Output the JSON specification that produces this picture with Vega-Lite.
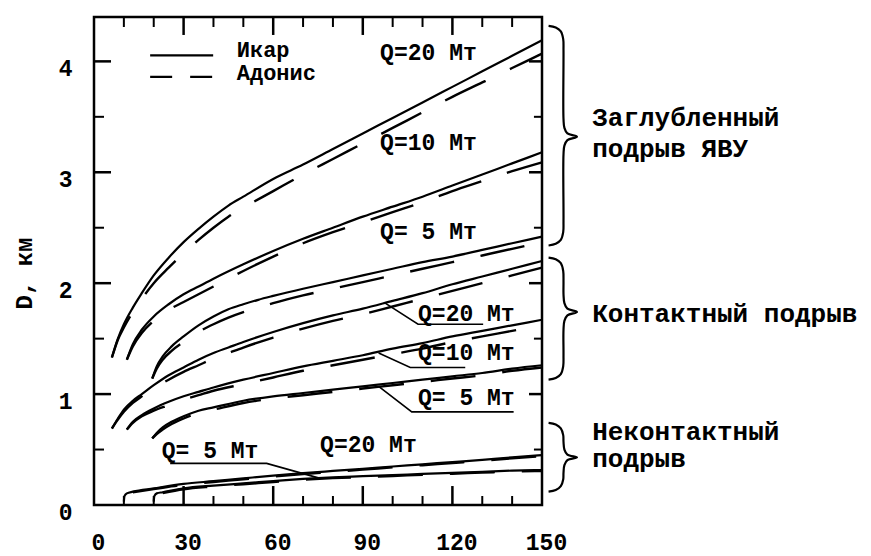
{
  "$schema": "https://vega.github.io/schema/vega-lite/v6.json",
  "width": 448,
  "height": 488,
  "autosize": "none",
  "padding": {"left": 94, "top": 17, "right": 329, "bottom": 51},
  "background": "white",
  "config": {
    "view": {"stroke": "black", "strokeWidth": 2.5},
    "axis": {
      "grid": false,
      "labelFont": "Liberation Mono",
      "labelFontWeight": "bold",
      "labelFontSize": 23,
      "labelColor": "black",
      "domain": false,
      "labelOverlap": false,
      "labelFlush": false,
      "titleColor": "black"
    }
  },
  "datasets": {
    "ticks": [
      {"id":"b30","k":"major","o":1,"x":30,"D":0},{"id":"b30","k":"major","o":2,"x":30,"D":0.171},
      {"id":"b60","k":"major","o":1,"x":60,"D":0},{"id":"b60","k":"major","o":2,"x":60,"D":0.171},
      {"id":"b90","k":"major","o":1,"x":90,"D":0},{"id":"b90","k":"major","o":2,"x":90,"D":0.171},
      {"id":"b120","k":"major","o":1,"x":120,"D":0},{"id":"b120","k":"major","o":2,"x":120,"D":0.171},
      {"id":"t30","k":"major","o":1,"x":30,"D":4.4},{"id":"t30","k":"major","o":2,"x":30,"D":4.238},
      {"id":"t60","k":"major","o":1,"x":60,"D":4.4},{"id":"t60","k":"major","o":2,"x":60,"D":4.238},
      {"id":"t90","k":"major","o":1,"x":90,"D":4.4},{"id":"t90","k":"major","o":2,"x":90,"D":4.238},
      {"id":"t120","k":"major","o":1,"x":120,"D":4.4},{"id":"t120","k":"major","o":2,"x":120,"D":4.238},
      {"id":"l1","k":"major","o":1,"x":0,"D":1},{"id":"l1","k":"major","o":2,"x":5.7,"D":1},
      {"id":"l2","k":"major","o":1,"x":0,"D":2},{"id":"l2","k":"major","o":2,"x":5.7,"D":2},
      {"id":"l3","k":"major","o":1,"x":0,"D":3},{"id":"l3","k":"major","o":2,"x":5.7,"D":3},
      {"id":"l4","k":"major","o":1,"x":0,"D":4},{"id":"l4","k":"major","o":2,"x":5.7,"D":4},
      {"id":"r1","k":"major","o":1,"x":150,"D":1},{"id":"r1","k":"major","o":2,"x":145.65,"D":1},
      {"id":"r2","k":"major","o":1,"x":150,"D":2},{"id":"r2","k":"major","o":2,"x":145.65,"D":2},
      {"id":"r3","k":"major","o":1,"x":150,"D":3},{"id":"r3","k":"major","o":2,"x":145.65,"D":3},
      {"id":"r4","k":"major","o":1,"x":150,"D":4},{"id":"r4","k":"major","o":2,"x":145.65,"D":4},
      {"id":"b10","k":"minor","o":1,"x":10,"D":0},{"id":"b10","k":"minor","o":2,"x":10,"D":0.081},
      {"id":"b20","k":"minor","o":1,"x":20,"D":0},{"id":"b20","k":"minor","o":2,"x":20,"D":0.081},
      {"id":"b40","k":"minor","o":1,"x":40,"D":0},{"id":"b40","k":"minor","o":2,"x":40,"D":0.081},
      {"id":"b50","k":"minor","o":1,"x":50,"D":0},{"id":"b50","k":"minor","o":2,"x":50,"D":0.081},
      {"id":"b70","k":"minor","o":1,"x":70,"D":0},{"id":"b70","k":"minor","o":2,"x":70,"D":0.081},
      {"id":"b80","k":"minor","o":1,"x":80,"D":0},{"id":"b80","k":"minor","o":2,"x":80,"D":0.081},
      {"id":"b100","k":"minor","o":1,"x":100,"D":0},{"id":"b100","k":"minor","o":2,"x":100,"D":0.081},
      {"id":"b110","k":"minor","o":1,"x":110,"D":0},{"id":"b110","k":"minor","o":2,"x":110,"D":0.081},
      {"id":"b130","k":"minor","o":1,"x":130,"D":0},{"id":"b130","k":"minor","o":2,"x":130,"D":0.081},
      {"id":"b140","k":"minor","o":1,"x":140,"D":0},{"id":"b140","k":"minor","o":2,"x":140,"D":0.081},
      {"id":"t10","k":"minor","o":1,"x":10,"D":4.4},{"id":"t10","k":"minor","o":2,"x":10,"D":4.31},
      {"id":"t20","k":"minor","o":1,"x":20,"D":4.4},{"id":"t20","k":"minor","o":2,"x":20,"D":4.31},
      {"id":"t40","k":"minor","o":1,"x":40,"D":4.4},{"id":"t40","k":"minor","o":2,"x":40,"D":4.31},
      {"id":"t50","k":"minor","o":1,"x":50,"D":4.4},{"id":"t50","k":"minor","o":2,"x":50,"D":4.31},
      {"id":"t70","k":"minor","o":1,"x":70,"D":4.4},{"id":"t70","k":"minor","o":2,"x":70,"D":4.31},
      {"id":"t80","k":"minor","o":1,"x":80,"D":4.4},{"id":"t80","k":"minor","o":2,"x":80,"D":4.31},
      {"id":"t100","k":"minor","o":1,"x":100,"D":4.4},{"id":"t100","k":"minor","o":2,"x":100,"D":4.31},
      {"id":"t110","k":"minor","o":1,"x":110,"D":4.4},{"id":"t110","k":"minor","o":2,"x":110,"D":4.31},
      {"id":"t130","k":"minor","o":1,"x":130,"D":4.4},{"id":"t130","k":"minor","o":2,"x":130,"D":4.31},
      {"id":"t140","k":"minor","o":1,"x":140,"D":4.4},{"id":"t140","k":"minor","o":2,"x":140,"D":4.31},
      {"id":"l05","k":"minor","o":1,"x":0,"D":0.5},{"id":"l05","k":"minor","o":2,"x":3.35,"D":0.5},
      {"id":"l15","k":"minor","o":1,"x":0,"D":1.5},{"id":"l15","k":"minor","o":2,"x":3.35,"D":1.5},
      {"id":"l25","k":"minor","o":1,"x":0,"D":2.5},{"id":"l25","k":"minor","o":2,"x":3.35,"D":2.5},
      {"id":"l35","k":"minor","o":1,"x":0,"D":3.5},{"id":"l35","k":"minor","o":2,"x":3.35,"D":3.5},
      {"id":"r05","k":"minor","o":1,"x":150,"D":0.5},{"id":"r05","k":"minor","o":2,"x":147.3,"D":0.5},
      {"id":"r15","k":"minor","o":1,"x":150,"D":1.5},{"id":"r15","k":"minor","o":2,"x":147.3,"D":1.5},
      {"id":"r25","k":"minor","o":1,"x":150,"D":2.5},{"id":"r25","k":"minor","o":2,"x":147.3,"D":2.5},
      {"id":"r35","k":"minor","o":1,"x":150,"D":3.5},{"id":"r35","k":"minor","o":2,"x":147.3,"D":3.5}
    ],
    "curves": [
      {"g":"deep","Q":20,"m":"Икар","x":6,"D":1.33},{"g":"deep","Q":20,"m":"Икар","x":8,"D":1.50},{"g":"deep","Q":20,"m":"Икар","x":10,"D":1.63},{"g":"deep","Q":20,"m":"Икар","x":13,"D":1.78},{"g":"deep","Q":20,"m":"Икар","x":16,"D":1.91},{"g":"deep","Q":20,"m":"Икар","x":20,"D":2.07},{"g":"deep","Q":20,"m":"Икар","x":25,"D":2.23},{"g":"deep","Q":20,"m":"Икар","x":30,"D":2.37},{"g":"deep","Q":20,"m":"Икар","x":35,"D":2.49},{"g":"deep","Q":20,"m":"Икар","x":40,"D":2.60},{"g":"deep","Q":20,"m":"Икар","x":45,"D":2.70},{"g":"deep","Q":20,"m":"Икар","x":50,"D":2.78},{"g":"deep","Q":20,"m":"Икар","x":60,"D":2.94},{"g":"deep","Q":20,"m":"Икар","x":70,"D":3.07},{"g":"deep","Q":20,"m":"Икар","x":80,"D":3.21},{"g":"deep","Q":20,"m":"Икар","x":90,"D":3.35},{"g":"deep","Q":20,"m":"Икар","x":100,"D":3.49},{"g":"deep","Q":20,"m":"Икар","x":110,"D":3.63},{"g":"deep","Q":20,"m":"Икар","x":120,"D":3.77},{"g":"deep","Q":20,"m":"Икар","x":130,"D":3.91},{"g":"deep","Q":20,"m":"Икар","x":140,"D":4.05},{"g":"deep","Q":20,"m":"Икар","x":150,"D":4.19},
      {"g":"deep","Q":20,"m":"Адонис","x":6,"D":1.33},{"g":"deep","Q":20,"m":"Адонис","x":8,"D":1.49},{"g":"deep","Q":20,"m":"Адонис","x":10,"D":1.60},{"g":"deep","Q":20,"m":"Адонис","x":13,"D":1.74},{"g":"deep","Q":20,"m":"Адонис","x":16,"D":1.86},{"g":"deep","Q":20,"m":"Адонис","x":20,"D":2.00},{"g":"deep","Q":20,"m":"Адонис","x":25,"D":2.14},{"g":"deep","Q":20,"m":"Адонис","x":30,"D":2.27},{"g":"deep","Q":20,"m":"Адонис","x":35,"D":2.39},{"g":"deep","Q":20,"m":"Адонис","x":40,"D":2.50},{"g":"deep","Q":20,"m":"Адонис","x":45,"D":2.60},{"g":"deep","Q":20,"m":"Адонис","x":50,"D":2.68},{"g":"deep","Q":20,"m":"Адонис","x":60,"D":2.83},{"g":"deep","Q":20,"m":"Адонис","x":70,"D":2.98},{"g":"deep","Q":20,"m":"Адонис","x":80,"D":3.12},{"g":"deep","Q":20,"m":"Адонис","x":90,"D":3.26},{"g":"deep","Q":20,"m":"Адонис","x":100,"D":3.40},{"g":"deep","Q":20,"m":"Адонис","x":110,"D":3.54},{"g":"deep","Q":20,"m":"Адонис","x":120,"D":3.68},{"g":"deep","Q":20,"m":"Адонис","x":130,"D":3.81},{"g":"deep","Q":20,"m":"Адонис","x":140,"D":3.94},{"g":"deep","Q":20,"m":"Адонис","x":150,"D":4.07},
      {"g":"deep","Q":10,"m":"Икар","x":11,"D":1.31},{"g":"deep","Q":10,"m":"Икар","x":13,"D":1.45},{"g":"deep","Q":10,"m":"Икар","x":16,"D":1.58},{"g":"deep","Q":10,"m":"Икар","x":20,"D":1.70},{"g":"deep","Q":10,"m":"Икар","x":25,"D":1.81},{"g":"deep","Q":10,"m":"Икар","x":30,"D":1.90},{"g":"deep","Q":10,"m":"Икар","x":35,"D":1.97},{"g":"deep","Q":10,"m":"Икар","x":40,"D":2.04},{"g":"deep","Q":10,"m":"Икар","x":50,"D":2.17},{"g":"deep","Q":10,"m":"Икар","x":60,"D":2.29},{"g":"deep","Q":10,"m":"Икар","x":70,"D":2.40},{"g":"deep","Q":10,"m":"Икар","x":80,"D":2.50},{"g":"deep","Q":10,"m":"Икар","x":90,"D":2.60},{"g":"deep","Q":10,"m":"Икар","x":100,"D":2.69},{"g":"deep","Q":10,"m":"Икар","x":110,"D":2.78},{"g":"deep","Q":10,"m":"Икар","x":120,"D":2.88},{"g":"deep","Q":10,"m":"Икар","x":130,"D":2.98},{"g":"deep","Q":10,"m":"Икар","x":140,"D":3.08},{"g":"deep","Q":10,"m":"Икар","x":150,"D":3.18},
      {"g":"deep","Q":10,"m":"Адонис","x":11,"D":1.31},{"g":"deep","Q":10,"m":"Адонис","x":13,"D":1.43},{"g":"deep","Q":10,"m":"Адонис","x":16,"D":1.55},{"g":"deep","Q":10,"m":"Адонис","x":20,"D":1.66},{"g":"deep","Q":10,"m":"Адонис","x":25,"D":1.76},{"g":"deep","Q":10,"m":"Адонис","x":30,"D":1.83},{"g":"deep","Q":10,"m":"Адонис","x":35,"D":1.90},{"g":"deep","Q":10,"m":"Адонис","x":40,"D":1.97},{"g":"deep","Q":10,"m":"Адонис","x":50,"D":2.11},{"g":"deep","Q":10,"m":"Адонис","x":60,"D":2.24},{"g":"deep","Q":10,"m":"Адонис","x":70,"D":2.36},{"g":"deep","Q":10,"m":"Адонис","x":80,"D":2.46},{"g":"deep","Q":10,"m":"Адонис","x":90,"D":2.55},{"g":"deep","Q":10,"m":"Адонис","x":100,"D":2.64},{"g":"deep","Q":10,"m":"Адонис","x":110,"D":2.73},{"g":"deep","Q":10,"m":"Адонис","x":120,"D":2.83},{"g":"deep","Q":10,"m":"Адонис","x":130,"D":2.92},{"g":"deep","Q":10,"m":"Адонис","x":140,"D":3.01},{"g":"deep","Q":10,"m":"Адонис","x":150,"D":3.09},
      {"g":"deep","Q":5,"m":"Икар","x":19.5,"D":1.14},{"g":"deep","Q":5,"m":"Икар","x":21,"D":1.25},{"g":"deep","Q":5,"m":"Икар","x":23,"D":1.34},{"g":"deep","Q":5,"m":"Икар","x":26,"D":1.43},{"g":"deep","Q":5,"m":"Икар","x":30,"D":1.52},{"g":"deep","Q":5,"m":"Икар","x":35,"D":1.62},{"g":"deep","Q":5,"m":"Икар","x":40,"D":1.70},{"g":"deep","Q":5,"m":"Икар","x":45,"D":1.765},{"g":"deep","Q":5,"m":"Икар","x":50,"D":1.81},{"g":"deep","Q":5,"m":"Икар","x":55,"D":1.85},{"g":"deep","Q":5,"m":"Икар","x":60,"D":1.885},{"g":"deep","Q":5,"m":"Икар","x":70,"D":1.95},{"g":"deep","Q":5,"m":"Икар","x":80,"D":2.01},{"g":"deep","Q":5,"m":"Икар","x":90,"D":2.07},{"g":"deep","Q":5,"m":"Икар","x":100,"D":2.13},{"g":"deep","Q":5,"m":"Икар","x":110,"D":2.19},{"g":"deep","Q":5,"m":"Икар","x":120,"D":2.24},{"g":"deep","Q":5,"m":"Икар","x":130,"D":2.30},{"g":"deep","Q":5,"m":"Икар","x":140,"D":2.36},{"g":"deep","Q":5,"m":"Икар","x":150,"D":2.42},
      {"g":"deep","Q":5,"m":"Адонис","x":19.5,"D":1.14},{"g":"deep","Q":5,"m":"Адонис","x":21,"D":1.23},{"g":"deep","Q":5,"m":"Адонис","x":23,"D":1.31},{"g":"deep","Q":5,"m":"Адонис","x":26,"D":1.39},{"g":"deep","Q":5,"m":"Адонис","x":30,"D":1.47},{"g":"deep","Q":5,"m":"Адонис","x":35,"D":1.56},{"g":"deep","Q":5,"m":"Адонис","x":40,"D":1.63},{"g":"deep","Q":5,"m":"Адонис","x":45,"D":1.69},{"g":"deep","Q":5,"m":"Адонис","x":50,"D":1.74},{"g":"deep","Q":5,"m":"Адонис","x":55,"D":1.78},{"g":"deep","Q":5,"m":"Адонис","x":60,"D":1.82},{"g":"deep","Q":5,"m":"Адонис","x":70,"D":1.89},{"g":"deep","Q":5,"m":"Адонис","x":80,"D":1.95},{"g":"deep","Q":5,"m":"Адонис","x":90,"D":2.01},{"g":"deep","Q":5,"m":"Адонис","x":100,"D":2.07},{"g":"deep","Q":5,"m":"Адонис","x":110,"D":2.13},{"g":"deep","Q":5,"m":"Адонис","x":120,"D":2.19},{"g":"deep","Q":5,"m":"Адонис","x":130,"D":2.25},{"g":"deep","Q":5,"m":"Адонис","x":140,"D":2.31},{"g":"deep","Q":5,"m":"Адонис","x":150,"D":2.37},
      {"g":"cont","Q":20,"m":"Икар","x":6,"D":0.69},{"g":"cont","Q":20,"m":"Икар","x":8,"D":0.78},{"g":"cont","Q":20,"m":"Икар","x":10,"D":0.86},{"g":"cont","Q":20,"m":"Икар","x":13,"D":0.94},{"g":"cont","Q":20,"m":"Икар","x":16,"D":1.00},{"g":"cont","Q":20,"m":"Икар","x":20,"D":1.08},{"g":"cont","Q":20,"m":"Икар","x":25,"D":1.17},{"g":"cont","Q":20,"m":"Икар","x":30,"D":1.24},{"g":"cont","Q":20,"m":"Икар","x":35,"D":1.31},{"g":"cont","Q":20,"m":"Икар","x":40,"D":1.37},{"g":"cont","Q":20,"m":"Икар","x":45,"D":1.42},{"g":"cont","Q":20,"m":"Икар","x":50,"D":1.47},{"g":"cont","Q":20,"m":"Икар","x":60,"D":1.56},{"g":"cont","Q":20,"m":"Икар","x":70,"D":1.64},{"g":"cont","Q":20,"m":"Икар","x":80,"D":1.71},{"g":"cont","Q":20,"m":"Икар","x":90,"D":1.77},{"g":"cont","Q":20,"m":"Икар","x":100,"D":1.84},{"g":"cont","Q":20,"m":"Икар","x":110,"D":1.91},{"g":"cont","Q":20,"m":"Икар","x":120,"D":1.99},{"g":"cont","Q":20,"m":"Икар","x":130,"D":2.06},{"g":"cont","Q":20,"m":"Икар","x":140,"D":2.13},{"g":"cont","Q":20,"m":"Икар","x":150,"D":2.20},
      {"g":"cont","Q":20,"m":"Адонис","x":6,"D":0.69},{"g":"cont","Q":20,"m":"Адонис","x":8,"D":0.77},{"g":"cont","Q":20,"m":"Адонис","x":10,"D":0.84},{"g":"cont","Q":20,"m":"Адонис","x":13,"D":0.92},{"g":"cont","Q":20,"m":"Адонис","x":16,"D":0.98},{"g":"cont","Q":20,"m":"Адонис","x":20,"D":1.05},{"g":"cont","Q":20,"m":"Адонис","x":25,"D":1.13},{"g":"cont","Q":20,"m":"Адонис","x":30,"D":1.20},{"g":"cont","Q":20,"m":"Адонис","x":35,"D":1.26},{"g":"cont","Q":20,"m":"Адонис","x":40,"D":1.32},{"g":"cont","Q":20,"m":"Адонис","x":45,"D":1.37},{"g":"cont","Q":20,"m":"Адонис","x":50,"D":1.42},{"g":"cont","Q":20,"m":"Адонис","x":60,"D":1.51},{"g":"cont","Q":20,"m":"Адонис","x":70,"D":1.59},{"g":"cont","Q":20,"m":"Адонис","x":80,"D":1.66},{"g":"cont","Q":20,"m":"Адонис","x":90,"D":1.72},{"g":"cont","Q":20,"m":"Адонис","x":100,"D":1.79},{"g":"cont","Q":20,"m":"Адонис","x":110,"D":1.86},{"g":"cont","Q":20,"m":"Адонис","x":120,"D":1.93},{"g":"cont","Q":20,"m":"Адонис","x":130,"D":2.00},{"g":"cont","Q":20,"m":"Адонис","x":140,"D":2.07},{"g":"cont","Q":20,"m":"Адонис","x":150,"D":2.14},
      {"g":"cont","Q":10,"m":"Икар","x":11,"D":0.68},{"g":"cont","Q":10,"m":"Икар","x":13,"D":0.75},{"g":"cont","Q":10,"m":"Икар","x":16,"D":0.81},{"g":"cont","Q":10,"m":"Икар","x":20,"D":0.87},{"g":"cont","Q":10,"m":"Икар","x":25,"D":0.93},{"g":"cont","Q":10,"m":"Икар","x":30,"D":0.98},{"g":"cont","Q":10,"m":"Икар","x":35,"D":1.02},{"g":"cont","Q":10,"m":"Икар","x":40,"D":1.06},{"g":"cont","Q":10,"m":"Икар","x":50,"D":1.13},{"g":"cont","Q":10,"m":"Икар","x":60,"D":1.19},{"g":"cont","Q":10,"m":"Икар","x":70,"D":1.25},{"g":"cont","Q":10,"m":"Икар","x":80,"D":1.30},{"g":"cont","Q":10,"m":"Икар","x":90,"D":1.35},{"g":"cont","Q":10,"m":"Икар","x":100,"D":1.41},{"g":"cont","Q":10,"m":"Икар","x":110,"D":1.46},{"g":"cont","Q":10,"m":"Икар","x":120,"D":1.52},{"g":"cont","Q":10,"m":"Икар","x":130,"D":1.57},{"g":"cont","Q":10,"m":"Икар","x":140,"D":1.62},{"g":"cont","Q":10,"m":"Икар","x":150,"D":1.67},
      {"g":"cont","Q":10,"m":"Адонис","x":11,"D":0.68},{"g":"cont","Q":10,"m":"Адонис","x":13,"D":0.74},{"g":"cont","Q":10,"m":"Адонис","x":16,"D":0.80},{"g":"cont","Q":10,"m":"Адонис","x":20,"D":0.85},{"g":"cont","Q":10,"m":"Адонис","x":25,"D":0.90},{"g":"cont","Q":10,"m":"Адонис","x":30,"D":0.95},{"g":"cont","Q":10,"m":"Адонис","x":35,"D":0.99},{"g":"cont","Q":10,"m":"Адонис","x":40,"D":1.03},{"g":"cont","Q":10,"m":"Адонис","x":50,"D":1.09},{"g":"cont","Q":10,"m":"Адонис","x":60,"D":1.15},{"g":"cont","Q":10,"m":"Адонис","x":70,"D":1.21},{"g":"cont","Q":10,"m":"Адонис","x":80,"D":1.26},{"g":"cont","Q":10,"m":"Адонис","x":90,"D":1.31},{"g":"cont","Q":10,"m":"Адонис","x":100,"D":1.36},{"g":"cont","Q":10,"m":"Адонис","x":110,"D":1.41},{"g":"cont","Q":10,"m":"Адонис","x":120,"D":1.47},{"g":"cont","Q":10,"m":"Адонис","x":130,"D":1.52},{"g":"cont","Q":10,"m":"Адонис","x":140,"D":1.57},{"g":"cont","Q":10,"m":"Адонис","x":150,"D":1.62},
      {"g":"cont","Q":5,"m":"Икар","x":19.5,"D":0.60},{"g":"cont","Q":5,"m":"Икар","x":21,"D":0.65},{"g":"cont","Q":5,"m":"Икар","x":23,"D":0.70},{"g":"cont","Q":5,"m":"Икар","x":26,"D":0.75},{"g":"cont","Q":5,"m":"Икар","x":30,"D":0.80},{"g":"cont","Q":5,"m":"Икар","x":35,"D":0.85},{"g":"cont","Q":5,"m":"Икар","x":40,"D":0.88},{"g":"cont","Q":5,"m":"Икар","x":50,"D":0.94},{"g":"cont","Q":5,"m":"Икар","x":60,"D":0.98},{"g":"cont","Q":5,"m":"Икар","x":70,"D":1.01},{"g":"cont","Q":5,"m":"Икар","x":80,"D":1.04},{"g":"cont","Q":5,"m":"Икар","x":90,"D":1.07},{"g":"cont","Q":5,"m":"Икар","x":100,"D":1.10},{"g":"cont","Q":5,"m":"Икар","x":110,"D":1.13},{"g":"cont","Q":5,"m":"Икар","x":120,"D":1.16},{"g":"cont","Q":5,"m":"Икар","x":130,"D":1.19},{"g":"cont","Q":5,"m":"Икар","x":140,"D":1.23},{"g":"cont","Q":5,"m":"Икар","x":150,"D":1.26},
      {"g":"cont","Q":5,"m":"Адонис","x":19.5,"D":0.60},{"g":"cont","Q":5,"m":"Адонис","x":21,"D":0.64},{"g":"cont","Q":5,"m":"Адонис","x":23,"D":0.68},{"g":"cont","Q":5,"m":"Адонис","x":26,"D":0.73},{"g":"cont","Q":5,"m":"Адонис","x":30,"D":0.78},{"g":"cont","Q":5,"m":"Адонис","x":35,"D":0.83},{"g":"cont","Q":5,"m":"Адонис","x":40,"D":0.86},{"g":"cont","Q":5,"m":"Адонис","x":50,"D":0.92},{"g":"cont","Q":5,"m":"Адонис","x":60,"D":0.96},{"g":"cont","Q":5,"m":"Адонис","x":70,"D":0.99},{"g":"cont","Q":5,"m":"Адонис","x":80,"D":1.02},{"g":"cont","Q":5,"m":"Адонис","x":90,"D":1.05},{"g":"cont","Q":5,"m":"Адонис","x":100,"D":1.08},{"g":"cont","Q":5,"m":"Адонис","x":110,"D":1.11},{"g":"cont","Q":5,"m":"Адонис","x":120,"D":1.14},{"g":"cont","Q":5,"m":"Адонис","x":130,"D":1.17},{"g":"cont","Q":5,"m":"Адонис","x":140,"D":1.21},{"g":"cont","Q":5,"m":"Адонис","x":150,"D":1.24},
      {"g":"non","Q":20,"m":"Икар","x":10,"D":0.03},{"g":"non","Q":20,"m":"Икар","x":10.2,"D":0.08},{"g":"non","Q":20,"m":"Икар","x":11,"D":0.105},{"g":"non","Q":20,"m":"Икар","x":13,"D":0.12},{"g":"non","Q":20,"m":"Икар","x":20,"D":0.15},{"g":"non","Q":20,"m":"Икар","x":30,"D":0.19},{"g":"non","Q":20,"m":"Икар","x":40,"D":0.215},{"g":"non","Q":20,"m":"Икар","x":50,"D":0.24},{"g":"non","Q":20,"m":"Икар","x":60,"D":0.265},{"g":"non","Q":20,"m":"Икар","x":70,"D":0.287},{"g":"non","Q":20,"m":"Икар","x":80,"D":0.307},{"g":"non","Q":20,"m":"Икар","x":90,"D":0.327},{"g":"non","Q":20,"m":"Икар","x":100,"D":0.347},{"g":"non","Q":20,"m":"Икар","x":110,"D":0.367},{"g":"non","Q":20,"m":"Икар","x":120,"D":0.387},{"g":"non","Q":20,"m":"Икар","x":130,"D":0.407},{"g":"non","Q":20,"m":"Икар","x":140,"D":0.43},{"g":"non","Q":20,"m":"Икар","x":150,"D":0.45},
      {"g":"non","Q":20,"m":"Адонис","x":13,"D":0.115},{"g":"non","Q":20,"m":"Адонис","x":20,"D":0.143},{"g":"non","Q":20,"m":"Адонис","x":30,"D":0.182},{"g":"non","Q":20,"m":"Адонис","x":40,"D":0.207},{"g":"non","Q":20,"m":"Адонис","x":50,"D":0.232},{"g":"non","Q":20,"m":"Адонис","x":60,"D":0.257},{"g":"non","Q":20,"m":"Адонис","x":70,"D":0.279},{"g":"non","Q":20,"m":"Адонис","x":80,"D":0.299},{"g":"non","Q":20,"m":"Адонис","x":90,"D":0.319},{"g":"non","Q":20,"m":"Адонис","x":100,"D":0.339},{"g":"non","Q":20,"m":"Адонис","x":110,"D":0.359},{"g":"non","Q":20,"m":"Адонис","x":120,"D":0.379},{"g":"non","Q":20,"m":"Адонис","x":130,"D":0.399},{"g":"non","Q":20,"m":"Адонис","x":140,"D":0.421},{"g":"non","Q":20,"m":"Адонис","x":150,"D":0.441},
      {"g":"non","Q":5,"m":"Икар","x":20,"D":0.03},{"g":"non","Q":5,"m":"Икар","x":20.2,"D":0.08},{"g":"non","Q":5,"m":"Икар","x":21,"D":0.105},{"g":"non","Q":5,"m":"Икар","x":23,"D":0.115},{"g":"non","Q":5,"m":"Икар","x":30,"D":0.15},{"g":"non","Q":5,"m":"Икар","x":40,"D":0.175},{"g":"non","Q":5,"m":"Икар","x":50,"D":0.195},{"g":"non","Q":5,"m":"Икар","x":60,"D":0.215},{"g":"non","Q":5,"m":"Икар","x":70,"D":0.235},{"g":"non","Q":5,"m":"Икар","x":80,"D":0.25},{"g":"non","Q":5,"m":"Икар","x":90,"D":0.26},{"g":"non","Q":5,"m":"Икар","x":100,"D":0.27},{"g":"non","Q":5,"m":"Икар","x":110,"D":0.28},{"g":"non","Q":5,"m":"Икар","x":120,"D":0.29},{"g":"non","Q":5,"m":"Икар","x":130,"D":0.30},{"g":"non","Q":5,"m":"Икар","x":140,"D":0.31},{"g":"non","Q":5,"m":"Икар","x":150,"D":0.315},
      {"g":"non","Q":5,"m":"Адонис","x":23,"D":0.108},{"g":"non","Q":5,"m":"Адонис","x":30,"D":0.142},{"g":"non","Q":5,"m":"Адонис","x":40,"D":0.167},{"g":"non","Q":5,"m":"Адонис","x":50,"D":0.187},{"g":"non","Q":5,"m":"Адонис","x":60,"D":0.207},{"g":"non","Q":5,"m":"Адонис","x":70,"D":0.227},{"g":"non","Q":5,"m":"Адонис","x":80,"D":0.242},{"g":"non","Q":5,"m":"Адонис","x":90,"D":0.252},{"g":"non","Q":5,"m":"Адонис","x":100,"D":0.262},{"g":"non","Q":5,"m":"Адонис","x":110,"D":0.272},{"g":"non","Q":5,"m":"Адонис","x":120,"D":0.282},{"g":"non","Q":5,"m":"Адонис","x":130,"D":0.292},{"g":"non","Q":5,"m":"Адонис","x":140,"D":0.302},{"g":"non","Q":5,"m":"Адонис","x":150,"D":0.307}
    ],
    "leaders": [
      {"id":"c20","o":1,"x":97.5,"D":1.82},{"id":"c20","o":2,"x":108.5,"D":1.63},{"id":"c20","o":3,"x":130.3,"D":1.63},
      {"id":"c10","o":1,"x":95.3,"D":1.37},{"id":"c10","o":2,"x":105.9,"D":1.24},{"id":"c10","o":3,"x":124.3,"D":1.24},
      {"id":"c5","o":1,"x":95.3,"D":1.07},{"id":"c5","o":2,"x":106.4,"D":0.84},{"id":"c5","o":3,"x":140.5,"D":0.84},
      {"id":"n5","o":1,"x":25.5,"D":0.375},{"id":"n5","o":2,"x":57.8,"D":0.375},{"id":"n5","o":3,"x":75.7,"D":0.24}
    ],
    "qlabels": [
      {"t":"Q=20 Мт","x":95.8,"D":4.01},
      {"t":"Q=10 Мт","x":95.8,"D":3.20},
      {"t":"Q= 5 Мт","x":95.8,"D":2.40},
      {"t":"Q=20 Мт","x":108.5,"D":1.66},
      {"t":"Q=10 Мт","x":108.5,"D":1.31},
      {"t":"Q= 5 Мт","x":108.5,"D":0.90},
      {"t":"Q=20 Мт","x":75.7,"D":0.48},
      {"t":"Q= 5 Мт","x":22.7,"D":0.42}
    ],
    "glabels": [
      {"t":"Заглубленный","x":166.8,"D":3.42},
      {"t":"подрыв ЯВУ","x":166.8,"D":3.135},
      {"t":"Контактный подрыв","x":166.8,"D":1.65},
      {"t":"Неконтактный","x":166.8,"D":0.585},
      {"t":"подрыв","x":166.8,"D":0.34}
    ],
    "braces": [
      {"b":"deep","o":1,"x":152.2,"D":4.32},{"b":"deep","o":2,"x":154.6,"D":4.305},{"b":"deep","o":3,"x":156.3,"D":4.27},{"b":"deep","o":4,"x":157.1,"D":4.2},{"b":"deep","o":5,"x":157.2,"D":4.1},{"b":"deep","o":6,"x":157.2,"D":3.48},{"b":"deep","o":7,"x":157.5,"D":3.4},{"b":"deep","o":8,"x":158.5,"D":3.35},{"b":"deep","o":9,"x":161.7,"D":3.32},{"b":"deep","o":10,"x":158.5,"D":3.29},{"b":"deep","o":11,"x":157.5,"D":3.24},{"b":"deep","o":12,"x":157.2,"D":3.16},{"b":"deep","o":13,"x":157.2,"D":2.56},{"b":"deep","o":14,"x":157.1,"D":2.46},{"b":"deep","o":15,"x":156.3,"D":2.39},{"b":"deep","o":16,"x":154.6,"D":2.355},{"b":"deep","o":17,"x":152.2,"D":2.34},
      {"b":"cont","o":1,"x":152.2,"D":2.23},{"b":"cont","o":2,"x":154.6,"D":2.215},{"b":"cont","o":3,"x":156.3,"D":2.18},{"b":"cont","o":4,"x":157.1,"D":2.11},{"b":"cont","o":5,"x":157.2,"D":2.01},{"b":"cont","o":6,"x":157.2,"D":1.9},{"b":"cont","o":7,"x":157.5,"D":1.82},{"b":"cont","o":8,"x":158.5,"D":1.77},{"b":"cont","o":9,"x":161.7,"D":1.74},{"b":"cont","o":10,"x":158.5,"D":1.71},{"b":"cont","o":11,"x":157.5,"D":1.66},{"b":"cont","o":12,"x":157.2,"D":1.58},{"b":"cont","o":13,"x":157.2,"D":1.35},{"b":"cont","o":14,"x":157.1,"D":1.25},{"b":"cont","o":15,"x":156.3,"D":1.18},{"b":"cont","o":16,"x":154.6,"D":1.145},{"b":"cont","o":17,"x":152.2,"D":1.13},
      {"b":"non","o":1,"x":152.2,"D":0.74},{"b":"non","o":2,"x":154.6,"D":0.725},{"b":"non","o":3,"x":156.3,"D":0.69},{"b":"non","o":4,"x":157.1,"D":0.63},{"b":"non","o":5,"x":157.2,"D":0.57},{"b":"non","o":6,"x":157.5,"D":0.5},{"b":"non","o":7,"x":158.5,"D":0.455},{"b":"non","o":8,"x":161.7,"D":0.43},{"b":"non","o":9,"x":158.5,"D":0.405},{"b":"non","o":10,"x":157.5,"D":0.36},{"b":"non","o":11,"x":157.2,"D":0.29},{"b":"non","o":12,"x":157.1,"D":0.23},{"b":"non","o":13,"x":156.3,"D":0.17},{"b":"non","o":14,"x":154.6,"D":0.135},{"b":"non","o":15,"x":152.2,"D":0.12}
    ],
    "legend": [
      {"m":"Икар","x":18.8,"x2":39.9,"D":4.054,"tx":47.8,"tD":4.04},
      {"m":"Адонис","x":18.8,"x2":39.9,"D":3.86,"tx":47.8,"tD":3.83}
    ]
  },
  "layer": [
    {
      "data": {"name": "curves"},
      "transform": [{"filter": "datum.m === 'Икар'"}],
      "mark": {"type": "line", "color": "black", "strokeWidth": 2.2, "interpolate": "monotone"},
      "encoding": {
        "x": {"field": "x", "type": "quantitative", "scale": {"domain": [0, 150], "nice": false},
          "axis": {"orient": "bottom", "values": [0, 30, 60, 90, 120, 150], "format": "d", "ticks": false, "tickSize": 0, "labelPadding": 26, "labelOffset": 4, "title": null}},
        "y": {"field": "D", "type": "quantitative", "scale": {"domain": [0, 4.4], "nice": false, "zero": true},
          "axis": {"orient": "left", "values": [0, 1, 2, 3, 4], "format": "d", "ticks": false, "tickSize": 0, "labelPadding": 22, "labelOffset": 7,
            "title": "D, км", "titleFont": "Liberation Mono", "titleFontWeight": "bold", "titleFontSize": 24, "titleX": -70, "titleY": 256, "titleBaseline": "middle", "titleAlign": "center", "titleAngle": -90}},
        "detail": [{"field": "g"}, {"field": "Q"}]
      }
    },
    {
      "data": {"name": "curves"},
      "transform": [{"filter": "datum.m === 'Адонис'"}],
      "mark": {"type": "line", "color": "black", "strokeWidth": 2.4, "strokeDash": [45, 27], "interpolate": "monotone"},
      "encoding": {
        "x": {"field": "x", "type": "quantitative"},
        "y": {"field": "D", "type": "quantitative"},
        "detail": [{"field": "g"}, {"field": "Q"}]
      }
    },
    {
      "data": {"name": "ticks"},
      "transform": [{"filter": "datum.k === 'major'"}],
      "mark": {"type": "line", "color": "black", "strokeWidth": 2.5},
      "encoding": {
        "x": {"field": "x", "type": "quantitative"},
        "y": {"field": "D", "type": "quantitative"},
        "detail": {"field": "id"},
        "order": {"field": "o"}
      }
    },
    {
      "data": {"name": "ticks"},
      "transform": [{"filter": "datum.k === 'minor'"}],
      "mark": {"type": "line", "color": "black", "strokeWidth": 2},
      "encoding": {
        "x": {"field": "x", "type": "quantitative"},
        "y": {"field": "D", "type": "quantitative"},
        "detail": {"field": "id"},
        "order": {"field": "o"}
      }
    },
    {
      "data": {"name": "leaders"},
      "mark": {"type": "line", "color": "black", "strokeWidth": 1.6},
      "encoding": {
        "x": {"field": "x", "type": "quantitative"},
        "y": {"field": "D", "type": "quantitative"},
        "detail": {"field": "id"},
        "order": {"field": "o"}
      }
    },
    {
      "data": {"name": "braces"},
      "mark": {"type": "line", "color": "black", "strokeWidth": 2.2, "interpolate": "catmull-rom", "clip": false},
      "encoding": {
        "x": {"field": "x", "type": "quantitative"},
        "y": {"field": "D", "type": "quantitative"},
        "detail": {"field": "b"},
        "order": {"field": "o"}
      }
    },
    {
      "data": {"name": "qlabels"},
      "mark": {"type": "text", "font": "Liberation Mono", "fontWeight": "bold", "fontSize": 23, "align": "left", "baseline": "alphabetic", "color": "black"},
      "encoding": {
        "x": {"field": "x", "type": "quantitative"},
        "y": {"field": "D", "type": "quantitative"},
        "text": {"field": "t"}
      }
    },
    {
      "data": {"name": "glabels"},
      "mark": {"type": "text", "font": "Liberation Mono", "fontWeight": "bold", "fontSize": 26, "align": "left", "baseline": "alphabetic", "color": "black", "clip": false},
      "encoding": {
        "x": {"field": "x", "type": "quantitative"},
        "y": {"field": "D", "type": "quantitative"},
        "text": {"field": "t"}
      }
    },
    {
      "data": {"name": "legend"},
      "mark": {"type": "rule", "color": "black", "strokeWidth": 2.4},
      "encoding": {
        "x": {"field": "x", "type": "quantitative"},
        "x2": {"field": "x2"},
        "y": {"field": "D", "type": "quantitative"},
        "strokeDash": {"condition": {"test": "datum.m === 'Адонис'", "value": [22, 18]}, "value": [1, 0]}
      }
    },
    {
      "data": {"name": "legend"},
      "mark": {"type": "text", "font": "Liberation Mono", "fontWeight": "bold", "fontSize": 22, "align": "left", "baseline": "alphabetic", "color": "black"},
      "encoding": {
        "x": {"field": "tx", "type": "quantitative"},
        "y": {"field": "tD", "type": "quantitative"},
        "text": {"field": "m"}
      }
    }
  ]
}
